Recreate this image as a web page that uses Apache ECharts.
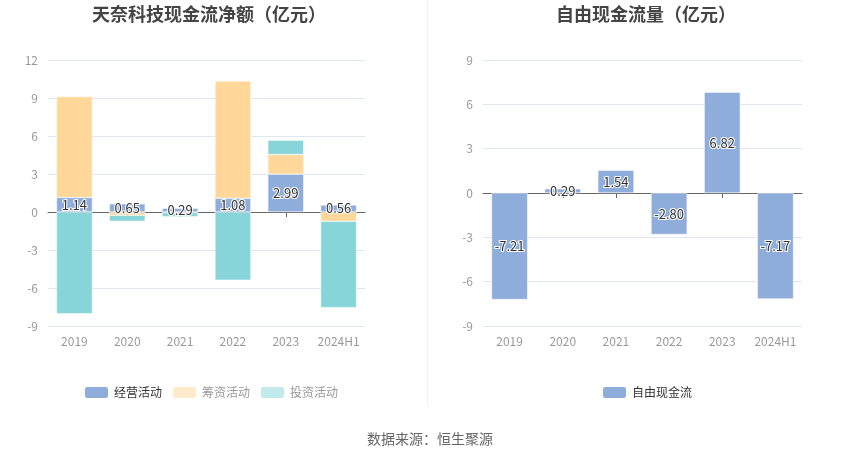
<!DOCTYPE html>
<html>
<head>
<meta charset="utf-8">
<script src="https://cdn.jsdelivr.net/npm/echarts@6/dist/echarts.min.js"></script>
<style>html,body{margin:0;padding:0;background:#fff;}#c{width:850px;height:459px;}</style>
</head>
<body>
<div id="c"></div>
<script>
const categories = ['2019', '2020', '2021', '2022', '2023', '2024H1'];
const operating = [1.14, 0.65, 0.29, 1.08, 2.99, 0.56];
const financing = [7.97, -0.26, -0.05, 9.26, 1.55, -0.73];
const investing = [-8.04, -0.47, -0.32, -5.38, 1.13, -6.82];
const freeCashFlow = [-7.21, 0.29, 1.54, -2.80, 6.82, -7.17];
const leftTicks = { min: -9, max: 12, interval: 3 };
const rightTicks = { min: -9, max: 9, interval: 3 };

const font = '"Noto Sans CJK SC", "Microsoft YaHei", sans-serif';
const C_OP = '#8EADDB', C_FIN = '#FFD799', C_INV = '#87D5D8';
const labelStyle = {
  show: true, position: 'inside', color: '#333', fontSize: 13, fontFamily: font,
  textBorderColor: '#fff', textBorderWidth: 2,
  formatter: p => p.value.toFixed(2)
};
function xAxis(idx) {
  return {
    type: 'category', gridIndex: idx, data: categories,
    axisLine: { onZero: true, lineStyle: { color: '#666' } },
    axisTick: { show: true, alignWithLabel: true, lineStyle: { color: '#666' } },
    axisLabel: { color: '#999', fontSize: 12, fontFamily: font, margin: 9,
      interval: 0 },
    position: 'bottom'
  };
}
function yAxis(idx, t) {
  return {
    type: 'value', gridIndex: idx, min: t.min, max: t.max, interval: t.interval,
    axisLine: { show: false }, axisTick: { show: false },
    axisLabel: { color: '#999', fontSize: 12, fontFamily: font, margin: 10 },
    splitLine: { lineStyle: { color: '#E0E6F1' } }
  };
}
const chart = echarts.init(document.getElementById('c'), null, { renderer: 'canvas' });
const option = {
  animation: false,
  backgroundColor: '#fff',
  title: [
    { text: '天奈科技现金流净额（亿元）', left: 204, top: 0, textAlign: 'center',
      textStyle: { fontSize: 18, fontWeight: 'bold', color: '#444', fontFamily: font } },
    { text: '自由现金流量（亿元）', left: 641, top: 0, textAlign: 'center',
      textStyle: { fontSize: 18, fontWeight: 'bold', color: '#444', fontFamily: font } },
    { text: '数据来源：恒生聚源', left: 425, top: 427, textAlign: 'center',
      textStyle: { fontSize: 14, fontWeight: 'normal', color: '#666', fontFamily: font } }
  ],
  legend: [
    { left: 78, top: 380, itemWidth: 25, itemHeight: 13, itemGap: 9,
      icon: 'roundRect',
      textStyle: { fontSize: 12, fontFamily: font, color: '#333' },
      data: [
        { name: '经营活动', itemStyle: { color: C_OP } },
        { name: '筹资活动', itemStyle: { color: '#FFEBCC' }, textStyle: { color: '#999' } },
        { name: '投资活动', itemStyle: { color: '#C3EBEC' }, textStyle: { color: '#999' } }
      ] },
    { left: 596, top: 380, itemWidth: 25, itemHeight: 13, icon: 'roundRect',
      textStyle: { fontSize: 12, fontFamily: font, color: '#333' },
      data: [{ name: '自由现金流', itemStyle: { color: C_OP } }] }
  ],
  graphic: [
    { type: 'line', shape: { x1: 427.5, y1: 0, x2: 427.5, y2: 406 },
      style: { stroke: '#EEEEEE', lineWidth: 1 } }
  ],
  grid: [
    { left: 48, right: 485, top: 60, bottom: 133, containLabel: false },
    { left: 483, right: 48, top: 60, bottom: 133, containLabel: false }
  ],
  xAxis: [xAxis(0), xAxis(1)],
  yAxis: [yAxis(0, leftTicks), yAxis(1, rightTicks)],
  series: [
    { name: '经营活动', type: 'bar', xAxisIndex: 0, yAxisIndex: 0, stack: 'cf',
      data: operating, barWidth: '68%', z: 3,
      itemStyle: { color: C_OP, borderColor: '#fff', borderWidth: 0.5 },
      label: labelStyle },
    { name: '筹资活动', type: 'bar', xAxisIndex: 0, yAxisIndex: 0, stack: 'cf',
      data: financing, barWidth: '68%',
      itemStyle: { color: C_FIN, borderColor: '#fff', borderWidth: 0.5 } },
    { name: '投资活动', type: 'bar', xAxisIndex: 0, yAxisIndex: 0, stack: 'cf',
      data: investing, barWidth: '68%',
      itemStyle: { color: C_INV, borderColor: '#fff', borderWidth: 0.5 } },
    { name: '自由现金流', type: 'bar', xAxisIndex: 1, yAxisIndex: 1,
      data: freeCashFlow, barWidth: '68%',
      itemStyle: { color: C_OP, borderColor: '#fff', borderWidth: 0.5 },
      label: labelStyle }
  ]
};
chart.setOption(option);
</script>
</body>
</html>
